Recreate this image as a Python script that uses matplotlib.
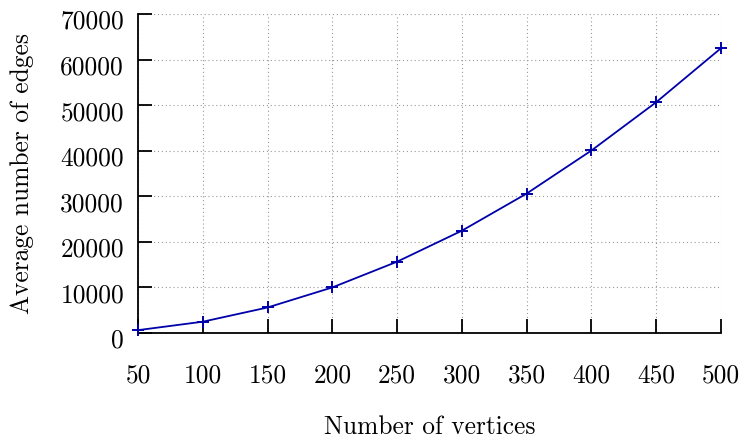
import matplotlib
matplotlib.use("Agg")
import matplotlib.pyplot as plt
import matplotlib.transforms as mtransforms

# data
vertices = [50, 100, 150, 200, 250, 300, 350, 400, 450, 500]
avg_edges = [625, 2480, 5600, 10000, 15650, 22450, 30600, 40050, 50650, 62500]

x_ticks = [50, 100, 150, 200, 250, 300, 350, 400, 450, 500]
y_ticks = [0, 10000, 20000, 30000, 40000, 50000, 60000, 70000]

plt.rcParams['font.family'] = ['cmr10', 'DejaVu Serif']
plt.rcParams['axes.formatter.use_mathtext'] = True

FS = 18.3

fig = plt.figure(figsize=(7.49, 4.41), dpi=100)
ax = fig.add_axes([138/749, 1 - 333/441, (721 - 138)/749, (333 - 14)/441])

ax.plot(vertices, avg_edges, color='#0000aa', linewidth=1.3,
        marker='+', markersize=9, markeredgewidth=1.4, clip_on=False, zorder=3)

ax.set_xlim(50, 500)
ax.set_ylim(0, 70000)
ax.set_xticks(x_ticks)
ax.set_yticks(y_ticks)
ax.set_xticklabels([str(v) for v in x_ticks])
ax.set_yticklabels([str(v) for v in y_ticks])

ax.grid(True, linestyle=(0, (1, 2.5)), color='#999999', linewidth=0.8)
ax.set_axisbelow(True)

for side in ['top', 'right']:
    ax.spines[side].set_visible(False)
for side in ['left', 'bottom']:
    ax.spines[side].set_linewidth(1.3)

ax.tick_params(axis='both', direction='in', length=10, width=1.3, labelsize=FS)
ax.tick_params(axis='x', pad=22.5)
ax.tick_params(axis='y', pad=10)

# shift y tick labels down a bit, like the latex baseline in the reference
offset = mtransforms.ScaledTranslation(0, -4/72, fig.dpi_scale_trans)
for lab in ax.get_yticklabels():
    lab.set_transform(lab.get_transform() + offset)

ax.set_xlabel('Number of vertices', fontsize=FS, va='center')
ax.xaxis.set_label_coords(0.5, (333 - 427) / 319)
ax.set_ylabel('Average number of edges', fontsize=FS, va='center')
ax.yaxis.set_label_coords((22 - 138) / 583, 0.5)

fig.savefig('out.png', dpi=100)
